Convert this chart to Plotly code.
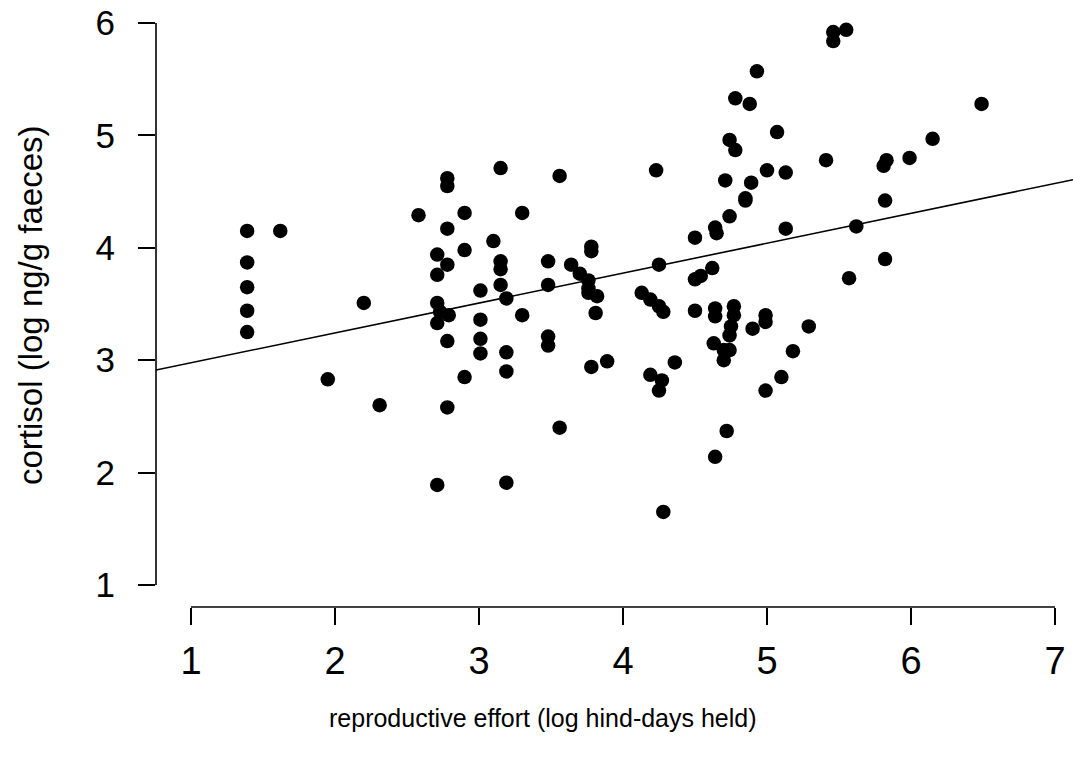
import plotly.graph_objects as go

# reproductive effort (log hind-days held)
effort = [1.39, 1.39, 1.39, 1.39, 1.39, 1.62, 2.20, 1.95, 2.31, 2.58,
          2.78, 2.78, 2.90, 3.30, 2.78, 3.10, 2.71, 2.90, 2.78, 2.71,
          3.15, 3.15, 3.48, 3.64, 3.70, 3.76, 3.78, 3.78, 4.25, 3.15,
          3.48, 3.01, 3.19, 3.76, 3.76, 3.82, 2.71, 2.73, 2.79, 2.71,
          3.01, 3.30, 3.81, 4.13, 4.19, 4.25, 4.28, 2.78, 3.01, 3.01,
          3.19, 3.48, 3.48, 3.19, 2.90, 3.78, 3.89, 4.19, 4.27, 4.25,
          2.78, 4.36, 3.56, 2.71, 3.19, 4.28, 4.50, 4.50, 4.54, 4.64,
          4.64, 4.63, 4.70, 4.74, 4.70, 4.72, 4.64, 4.50, 4.64, 4.65,
          4.74, 4.85, 5.13, 4.62, 4.77, 4.77, 4.75, 4.74, 4.90, 4.99,
          4.99, 5.29, 5.18, 5.10, 4.99, 5.46, 5.55, 5.46, 4.93, 4.78,
          4.88, 6.49, 5.07, 6.15, 4.74, 4.78, 5.41, 5.83, 5.81, 5.99,
          4.71, 4.89, 5.00, 5.13, 4.85, 5.82, 5.62, 5.57, 5.82, 3.15,
          3.56, 4.23]

# cortisol (log ng/g faeces)
cortisol = [4.15, 3.87, 3.65, 3.44, 3.25, 4.15, 3.51, 2.83, 2.60, 4.29,
            4.62, 4.55, 4.31, 4.31, 4.17, 4.06, 3.94, 3.98, 3.85, 3.76,
            3.88, 3.81, 3.88, 3.85, 3.77, 3.71, 4.01, 3.97, 3.85, 3.67,
            3.67, 3.62, 3.55, 3.64, 3.60, 3.57, 3.51, 3.43, 3.40, 3.33,
            3.36, 3.40, 3.42, 3.60, 3.54, 3.48, 3.43, 3.17, 3.19, 3.06,
            3.07, 3.21, 3.13, 2.90, 2.85, 2.94, 2.99, 2.87, 2.82, 2.73,
            2.58, 2.98, 2.40, 1.89, 1.91, 1.65, 3.44, 3.72, 3.75, 3.46,
            3.39, 3.15, 3.09, 3.09, 3.00, 2.37, 2.14, 4.09, 4.18, 4.13,
            4.28, 4.42, 4.17, 3.82, 3.48, 3.40, 3.30, 3.22, 3.28, 3.40,
            3.34, 3.30, 3.08, 2.85, 2.73, 5.92, 5.94, 5.84, 5.57, 5.33,
            5.28, 5.28, 5.03, 4.97, 4.96, 4.87, 4.78, 4.78, 4.73, 4.80,
            4.60, 4.58, 4.69, 4.67, 4.44, 4.42, 4.19, 3.73, 3.90, 4.71,
            4.64, 4.69]

# fitted regression line
intercept = 2.711
slope = 0.266

x_ticks = [1, 2, 3, 4, 5, 6, 7]
y_ticks = [1, 2, 3, 4, 5, 6]

x_range = [0.757, 7.125]
y_range = [0.804, 6.205]

FONT = "Liberation Sans, Arial, Helvetica, sans-serif"

fig = go.Figure()
fig.add_trace(go.Scatter(
    x=effort, y=cortisol, mode="markers",
    marker=dict(color="black", size=14.5, line=dict(width=0)),
    showlegend=False, hoverinfo="x+y"))
fig.add_trace(go.Scatter(
    x=x_range, y=[intercept + slope * v for v in x_range], mode="lines",
    line=dict(color="black", width=1.6), showlegend=False, hoverinfo="skip"))


def frac_x(v):
    return (v - x_range[0]) / (x_range[1] - x_range[0])


def frac_y(v):
    return (v - y_range[0]) / (y_range[1] - y_range[0])


shapes = [
    dict(type="line", xref="paper", yref="paper", x0=0, x1=0,
         y0=frac_y(y_ticks[0]), y1=frac_y(y_ticks[-1]),
         line=dict(color="black", width=1.6)),
    dict(type="line", xref="paper", yref="paper", y0=0, y1=0,
         x0=frac_x(x_ticks[0]), x1=frac_x(x_ticks[-1]),
         line=dict(color="black", width=1.6)),
]

W, H, L, B = 1073, 762, 156, 155
PW, PH = W - L, H - B

fig.update_layout(
    width=W, height=H,
    margin=dict(l=L, r=0, t=0, b=B, pad=0),
    plot_bgcolor="white", paper_bgcolor="white",
    font=dict(family=FONT, color="black"),
    shapes=shapes,
    xaxis=dict(range=x_range, tickvals=x_ticks, ticktext=[str(v) for v in x_ticks],
               ticks="outside", ticklen=17, tickwidth=1.6, tickcolor="black",
               showgrid=False, zeroline=False, showline=False,
               tickfont=dict(size=38, family=FONT), ticklabelstandoff=3),
    yaxis=dict(range=y_range, tickvals=y_ticks, ticktext=[str(v) for v in y_ticks],
               ticks="outside", ticklen=17, tickwidth=1.6, tickcolor="black",
               showgrid=False, zeroline=False, showline=False,
               tickfont=dict(size=35, family=FONT), ticklabelstandoff=16),
    annotations=[
        dict(text="reproductive effort (log hind-days held)", xref="paper", yref="paper",
             x=(543 - L) / PW, y=(PH - 718) / PH, xanchor="center", yanchor="middle",
             showarrow=False, font=dict(size=25, family=FONT)),
        dict(text="cortisol (log ng/g faeces)", xref="paper", yref="paper",
             x=(30 - L) / PW, y=(PH - 305) / PH, xanchor="center", yanchor="middle",
             textangle=-90, showarrow=False, font=dict(size=33, family=FONT)),
    ],
)

fig.write_html("out.html")
